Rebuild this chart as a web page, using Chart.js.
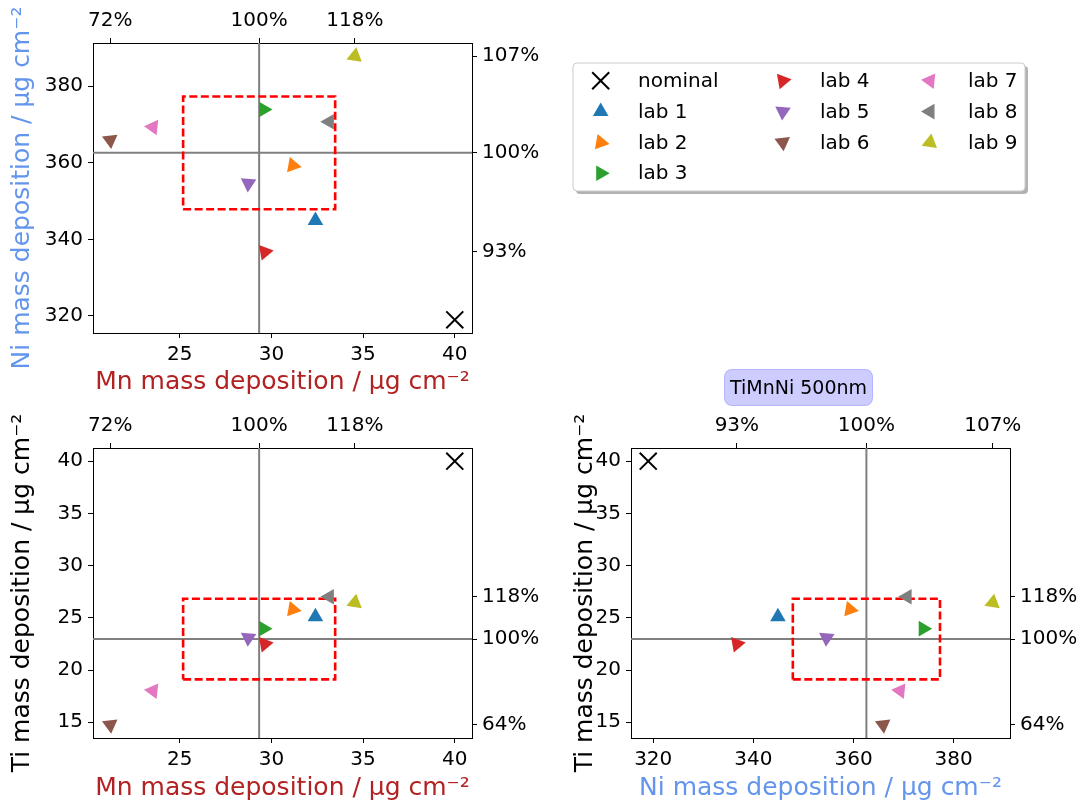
<!DOCTYPE html>
<html>
<head>
<meta charset="utf-8">
<title>TiMnNi 500nm</title>
<script src="https://cdn.jsdelivr.net/npm/chart.js"></script>
<style>
  body { margin: 0; background: #fff; font-family: 'DejaVu Sans', sans-serif; }
  #page { position: relative; width: 1083px; height: 806px; overflow: hidden; background: #fff; }
  canvas { position: absolute; }
  #mnni { left: 0; top: 0; }
  #mnti { left: 0; top: 400px; }
  #niti { left: 540px; top: 400px; }
  #sampleTitle {
    position: absolute; left: 724px; top: 369px; width: 149px; height: 37px;
    box-sizing: border-box; background: rgba(0, 0, 255, 0.2);
    border: 1px solid rgba(0, 0, 255, 0.12); border-radius: 8px;
    font-size: 19px; line-height: 35px; text-align: center; color: #000; z-index: 2;
  }
</style>
</head>
<body>
<div id="page">
  <canvas id="mnni" width="1083" height="400"></canvas>
  <canvas id="mnti" width="540" height="406"></canvas>
  <canvas id="niti" width="543" height="406"></canvas>
  <div id="sampleTitle">TiMnNi 500nm</div>
</div>
<script>
const labs = ['lab 1', 'lab 2', 'lab 3', 'lab 4', 'lab 5', 'lab 6', 'lab 7', 'lab 8', 'lab 9'];
const labColors = ['#1f77b4', '#ff7f0e', '#2ca02c', '#d62728', '#9467bd', '#8c564b', '#e377c2', '#7f7f7f', '#bcbd22'];
const labRotation = [0, 100, 90, 80, 184, 174, 276, 270, 9];

// mass deposition per lab, µg/cm²
const mnValues = [32.40, 31.17, 29.57, 29.64, 28.74, 21.21, 23.54, 33.16, 34.55];
const niValues = [344.9, 359.3, 373.9, 336.7, 354.6, 365.9, 369.3, 370.7, 387.8];
const tiValues = [25.10, 25.81, 23.96, 22.49, 23.08, 14.75, 18.01, 27.01, 26.46];

const nominalMn = 40;
const nominalNi = 319;
const nominalTi = 40;

const mnTicks = [25, 30, 35, 40];
const niTicks = [320, 340, 360, 380];
const tiTicks = [15, 20, 25, 30, 35, 40];

const mnTitle = { text: 'Mn mass deposition / μg cm⁻²', color: '#b22222' };
const niTitle = { text: 'Ni mass deposition / μg cm⁻²', color: '#6495ed' };
const tiTitle = { text: 'Ti mass deposition / μg cm⁻²', color: '#000000' };

Chart.defaults.font.family = "'DejaVu Sans', sans-serif";

function stats(values, nominal) {
    const mean = values.reduce((a, b) => a + b, 0) / values.length;
    const sd = Math.sqrt(values.reduce((a, v) => a + (v - mean) ** 2, 0) / values.length);
    const all = values.concat([nominal]);
    const lo = Math.min(...all), hi = Math.max(...all);
    const margin = (hi - lo) * 0.05;
    return {
        mean, sd,
        min: Math.min(...values), max: Math.max(...values),
        axisMin: lo - margin, axisMax: hi + margin
    };
}

const mnStats = stats(mnValues, nominalMn);
const niStats = stats(niValues, nominalNi);
const tiStats = stats(tiValues, nominalTi);

function buildDatasets(xv, yv, xn, yn, sx, sy) {
    const ds = [{
        label: 'nominal',
        data: [{ x: xn, y: yn }],
        pointStyle: 'crossRot', pointRadius: 12, pointBorderWidth: 2,
        pointBorderColor: '#000', pointBackgroundColor: '#000', order: 0
    }];
    labs.forEach((name, i) => {
        ds.push({
            label: name,
            data: [{ x: xv[i], y: yv[i] }],
            pointStyle: 'triangle', pointRotation: labRotation[i], pointRadius: 9,
            pointBorderWidth: 0, pointBackgroundColor: labColors[i], order: 1
        });
    });
    const line = { label: '', showLine: true, borderColor: '#808080', borderWidth: 2, pointRadius: 0, order: 6 };
    ds.push({ ...line, data: [{ x: sx.mean, y: sy.axisMin }, { x: sx.mean, y: sy.axisMax }] });
    ds.push({ ...line, data: [{ x: sx.axisMin, y: sy.mean }, { x: sx.axisMax, y: sy.mean }] });
    const x0 = sx.mean - sx.sd, x1 = sx.mean + sx.sd, y0 = sy.mean - sy.sd, y1 = sy.mean + sy.sd;
    ds.push({
        label: '', showLine: true, borderColor: '#ff0000', borderWidth: 2.6, borderDash: [8, 3.5],
        pointRadius: 0, order: 5,
        data: [{ x: x0, y: y0 }, { x: x1, y: y0 }, { x: x1, y: y1 }, { x: x0, y: y1 }, { x: x0, y: y0 }]
    });
    return ds;
}

function axis(position, st, tickList, size, title, pct) {
    const cfg = {
        type: 'linear',
        position: position,
        min: st.axisMin,
        max: st.axisMax,
        grid: { display: true, drawOnChartArea: false, drawTicks: true, tickLength: 5, color: '#000', lineWidth: 1 },
        border: { display: true, color: '#000', width: 1 },
        ticks: { font: { size: 20 }, color: '#000', padding: 5, maxRotation: 0, autoSkip: false },
        afterBuildTicks: (scale) => { scale.ticks = tickList.map(v => ({ value: v })); },
        afterFit: (scale) => {
            if (position === 'left' || position === 'right') scale.width = size;
            else scale.height = size;
        }
    };
    if (pct) cfg.ticks.callback = (v) => Math.round(v / st.mean * 100) + '%';
    if (title) {
        cfg.title = { display: true, text: title.text, color: title.color, font: { size: 25 }, padding: title.padding };
    }
    return cfg;
}

const legendPlugin = {
    id: 'boxLegend',
    afterDraw(chart) {
        const ctx = chart.ctx;
        const items = chart.data.datasets.filter(d => d.label);
        const cols = [{ marker: 600.7, text: 638 }, { marker: 782.7, text: 820 }, { marker: 930, text: 968 }];
        const rows = [80.7, 111.6, 142.4, 173.2];
        const perCol = [4, 3, 3];
        ctx.save();
        ctx.beginPath();
        ctx.roundRect(576, 66, 452, 128, 4);
        ctx.fillStyle = 'rgba(0, 0, 0, 0.3)';
        ctx.fill();
        ctx.beginPath();
        ctx.roundRect(573, 63, 452, 128, 4);
        ctx.fillStyle = '#fff';
        ctx.fill();
        ctx.strokeStyle = '#cccccc';
        ctx.lineWidth = 1;
        ctx.stroke();
        ctx.font = "20px 'DejaVu Sans', sans-serif";
        ctx.textBaseline = 'middle';
        ctx.textAlign = 'left';
        let k = 0;
        perCol.forEach((n, c) => {
            for (let r = 0; r < n; r++, k++) {
                const d = items[k];
                if (!d) continue;
                const opts = {
                    pointStyle: d.pointStyle, radius: d.pointRadius,
                    rotation: d.pointRotation || 0, borderWidth: d.pointBorderWidth || 0
                };
                ctx.fillStyle = d.pointBackgroundColor;
                ctx.strokeStyle = d.pointBorderColor || d.pointBackgroundColor;
                ctx.lineWidth = opts.borderWidth;
                Chart.helpers.drawPoint(ctx, opts, cols[c].marker, rows[r]);
                ctx.fillStyle = '#000';
                ctx.fillText(d.label, cols[c].text, rows[r] + 1);
            }
        });
        ctx.restore();
    }
};

function makeChart(id, datasets, scales, padding, plugins) {
    return new Chart(document.getElementById(id), {
        type: 'scatter',
        data: { datasets: datasets },
        options: {
            responsive: false,
            animation: false,
            devicePixelRatio: 1,
            events: [],
            layout: { padding: padding },
            plugins: { legend: { display: false }, tooltip: { enabled: false } },
            scales: scales
        },
        plugins: plugins || []
    });
}

// top left: Ni vs Mn
makeChart('mnni',
    buildDatasets(mnValues, niValues, nominalMn, nominalNi, mnStats, niStats),
    {
        x: axis('bottom', mnStats, mnTicks, 67, { ...mnTitle, padding: { top: 0, bottom: 3 } }),
        x2: axis('top', mnStats, [mnStats.min, mnStats.mean, mnStats.max], 43, null, true),
        y: axis('left', niStats, niTicks, 93, { ...niTitle, padding: { top: 7, bottom: 0 } }),
        y2: axis('right', niStats, [niStats.min, niStats.mean, niStats.max], 68, null, true)
    },
    { left: 0, top: 0, right: 543, bottom: 0 },
    [legendPlugin]
);

// bottom left: Ti vs Mn
makeChart('mnti',
    buildDatasets(mnValues, tiValues, nominalMn, nominalTi, mnStats, tiStats),
    {
        x: axis('bottom', mnStats, mnTicks, 68, { ...mnTitle, padding: { top: 0, bottom: 3 } }),
        x2: axis('top', mnStats, [mnStats.min, mnStats.mean, mnStats.max], 48, null, true),
        y: axis('left', tiStats, tiTicks, 93, { ...tiTitle, padding: { top: 7, bottom: 0 } }),
        y2: axis('right', tiStats, [tiStats.min, tiStats.mean, tiStats.max], 68, null, true)
    },
    { left: 0, top: 0, right: 0, bottom: 0 }
);

// bottom right: Ti vs Ni
makeChart('niti',
    buildDatasets(niValues, tiValues, nominalNi, nominalTi, niStats, tiStats),
    {
        x: axis('bottom', niStats, niTicks, 68, { ...niTitle, padding: { top: 0, bottom: 3 } }),
        x2: axis('top', niStats, [niStats.min, niStats.mean, niStats.max], 48, null, true),
        y: axis('left', tiStats, tiTicks, 91, { ...tiTitle, padding: { top: 30, bottom: 0 } }),
        y2: axis('right', tiStats, [tiStats.min, tiStats.mean, tiStats.max], 73, null, true)
    },
    { left: 0, top: 0, right: 0, bottom: 0 }
);
</script>
</body>
</html>
